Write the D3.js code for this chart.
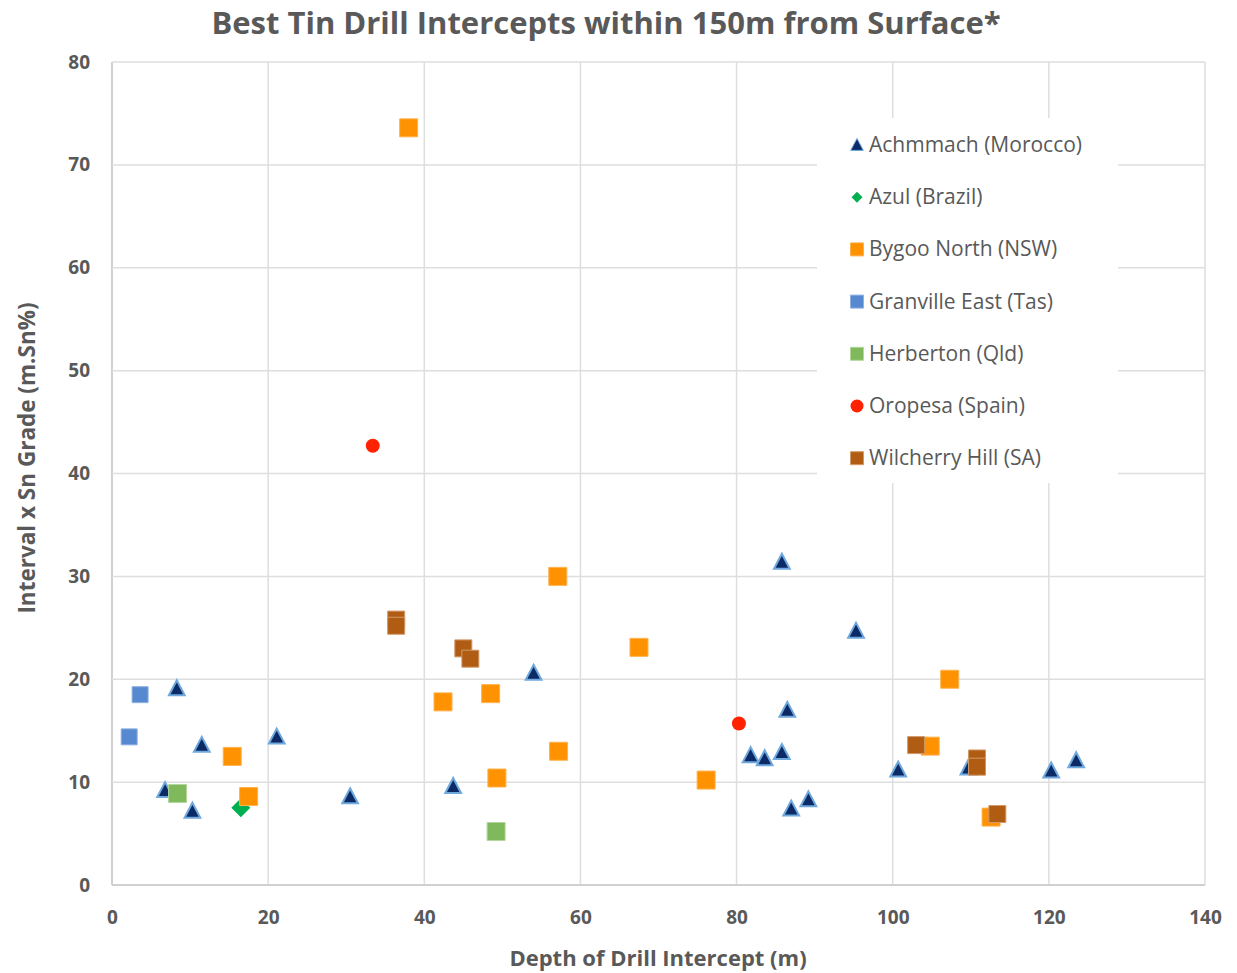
<!DOCTYPE html>
<html>
<head>
<meta charset="utf-8">
<script src="https://cdn.jsdelivr.net/npm/d3@7/dist/d3.min.js"></script>
<style>
  html, body { margin: 0; padding: 0; background: #fff; }
  svg { display: block; }
</style>
</head>
<body>
<svg id="chart" width="1237" height="973"></svg>
<script>
// Depth (m) and interval x grade (m.Sn%) of each project's best intercepts
const achmmachDepth = [8.3, 6.8, 11.5, 10.3, 21.1, 30.5, 43.7, 54.0, 85.8, 95.3, 86.5, 81.8, 83.6, 85.8, 87.0, 89.2, 100.7, 109.7, 120.3, 123.5];
const achmmachGrade = [19.1, 9.2, 13.6, 7.2, 14.4, 8.6, 9.6, 20.6, 31.4, 24.7, 17.0, 12.6, 12.3, 12.9, 7.4, 8.3, 11.2, 11.4, 11.1, 12.1];

const azulDepth = [16.5];
const azulGrade = [7.5];

const bygooDepth = [38.0, 57.1, 67.5, 107.3, 42.4, 48.5, 15.4, 17.5, 57.2, 49.3, 76.1, 104.8, 112.6];
const bygooGrade = [73.6, 30.0, 23.1, 20.0, 17.8, 18.6, 12.5, 8.6, 13.0, 10.4, 10.2, 13.5, 6.6];

const granvilleDepth = [3.6, 2.2];
const granvilleGrade = [18.5, 14.4];

const herbertonDepth = [8.4, 49.2];
const herbertonGrade = [8.9, 5.2];

const oropesaDepth = [33.4, 80.3];
const oropesaGrade = [42.7, 15.7];

const wilcherryDepth = [36.4, 36.4, 45.0, 45.9, 103.0, 110.8, 110.8, 113.4];
const wilcherryGrade = [25.8, 25.2, 23.0, 22.0, 13.6, 12.3, 11.5, 6.9];

const xTicks = [0, 20, 40, 60, 80, 100, 120, 140];
const yTicks = [0, 10, 20, 30, 40, 50, 60, 70, 80];

const seriesNames = ["Achmmach (Morocco)", "Azul (Brazil)", "Bygoo North (NSW)", "Granville East (Tas)", "Herberton (Qld)", "Oropesa (Spain)", "Wilcherry Hill (SA)"];

const titleText = "Best Tin Drill Intercepts within 150m from Surface*";
const xTitle = "Depth of Drill Intercept (m)";
const yTitle = "Interval x Sn Grade  (m.Sn%)";

// marker look for each series, in legend order
const styles = [
  { shape: "triangle", fill: "#0b2a66", stroke: "#6fa8dc", size: 15, legendSize: 12 },
  { shape: "diamond",  fill: "#00b050", stroke: "none",    size: 19, legendSize: 11 },
  { shape: "square",   fill: "#ff9200", stroke: "#ffb24d", size: 18, legendSize: 13 },
  { shape: "square",   fill: "#5689cf", stroke: "#8fb1e3", size: 16, legendSize: 13 },
  { shape: "square",   fill: "#80b95b", stroke: "#b2d69b", size: 18, legendSize: 13 },
  { shape: "circle",   fill: "#ff2200", stroke: "none",    size: 14, legendSize: 13 },
  { shape: "square",   fill: "#b05c12", stroke: "#d09a6a", size: 17, legendSize: 13 }
];

const series = [
  { x: achmmachDepth, y: achmmachGrade },
  { x: azulDepth, y: azulGrade },
  { x: bygooDepth, y: bygooGrade },
  { x: granvilleDepth, y: granvilleGrade },
  { x: herbertonDepth, y: herbertonGrade },
  { x: oropesaDepth, y: oropesaGrade },
  { x: wilcherryDepth, y: wilcherryGrade }
].map((s, i) => ({ name: seriesNames[i], style: styles[i], points: s.x.map((d, j) => [d, s.y[j]]) }));

const svg = d3.select("#chart");
const margin = { left: 112, right: 32, top: 62, bottom: 88 };
const W = 1237, H = 973;
const FONT = "'Open Sans', 'DejaVu Sans', sans-serif";
const TEXT = "#595959";

const x = d3.scaleLinear().domain([0, 140]).range([margin.left, W - margin.right]);
const y = d3.scaleLinear().domain([0, 80]).range([H - margin.bottom, margin.top]);

function symbolPath(shape, size) {
  if (shape === "triangle") {
    const h = size, w = size * 1.05;
    return `M0,${-h * 0.55} L${w / 2},${h * 0.45} L${-w / 2},${h * 0.45} Z`;
  }
  if (shape === "diamond") {
    const r = size / 2;
    return `M0,${-r} L${r},0 L0,${r} L${-r},0 Z`;
  }
  if (shape === "circle") {
    const r = size / 2;
    return `M${r},0 A${r},${r} 0 1,1 ${-r},0 A${r},${r} 0 1,1 ${r},0 Z`;
  }
  const h = size / 2;
  return `M${-h},${-h} H${h} V${h} H${-h} Z`;
}

// gridlines
const grid = svg.append("g");
grid.selectAll("line.v").data(xTicks).join("line")
  .attr("x1", d => x(d)).attr("x2", d => x(d))
  .attr("y1", y(0)).attr("y2", y(80))
  .attr("stroke", d => d === 0 ? "#d0d0d0" : "#dedede").attr("stroke-width", d => d === 0 ? 2 : 1.5);
grid.selectAll("line.h").data(yTicks).join("line")
  .attr("x1", x(0)).attr("x2", x(140))
  .attr("y1", d => y(d)).attr("y2", d => y(d))
  .attr("stroke", d => d === 0 ? "#d0d0d0" : "#dedede").attr("stroke-width", d => d === 0 ? 2 : 1.5);

// axes: tick labels only
const xAxis = svg.append("g").attr("transform", `translate(0,${y(0)})`)
  .call(d3.axisBottom(x).tickValues(xTicks).tickSize(0).tickPadding(26));
const yAxis = svg.append("g").attr("transform", `translate(${x(0)},0)`)
  .call(d3.axisLeft(y).tickValues(yTicks).tickSize(0).tickPadding(22));
[xAxis, yAxis].forEach(a => {
  a.select(".domain").remove();
  a.selectAll("text").attr("fill", TEXT).style("font-family", FONT)
    .style("font-size", "19px").style("font-weight", "bold");
});

// legend box sits over the gridlines
const legend = svg.append("g");
legend.append("rect").attr("x", 817).attr("y", 118).attr("width", 301).attr("height", 365).attr("fill", "#fff");
const items = legend.selectAll("g.item").data(series).join("g")
  .attr("transform", (d, i) => `translate(857,${145 + i * 52.2})`);
items.append("path")
  .attr("d", d => symbolPath(d.style.shape, d.style.legendSize))
  .attr("fill", d => d.style.fill)
  .attr("stroke", d => d.style.stroke === "none" ? "none" : d.style.stroke)
  .attr("stroke-width", 1);
items.append("text").attr("x", 12).attr("y", 7)
  .attr("fill", TEXT).style("font-family", FONT).style("font-size", "21px")
  .text(d => d.name);

// points
const plot = svg.append("g");
series.forEach(s => {
  plot.append("g").selectAll("path").data(s.points).join("path")
    .attr("transform", d => `translate(${x(d[0])},${y(d[1])})`)
    .attr("d", symbolPath(s.style.shape, s.style.size))
    .attr("fill", s.style.fill)
    .attr("stroke", s.style.stroke)
    .attr("stroke-width", s.style.shape === "triangle" ? 2 : 1);
});

// titles
svg.append("text").attr("x", 606).attr("y", 34).attr("text-anchor", "middle")
  .attr("fill", TEXT).style("font-family", FONT).style("font-size", "31px").style("font-weight", "bold")
  .text(titleText);
svg.append("text").attr("x", 658).attr("y", 966).attr("text-anchor", "middle")
  .attr("fill", TEXT).style("font-family", FONT).style("font-size", "22px").style("font-weight", "bold")
  .text(xTitle);
svg.append("text").attr("transform", "translate(35,458) rotate(-90)").attr("text-anchor", "middle")
  .attr("fill", TEXT).style("font-family", FONT).style("font-size", "22.5px").style("font-weight", "bold")
  .text(yTitle);
</script>
</body>
</html>
